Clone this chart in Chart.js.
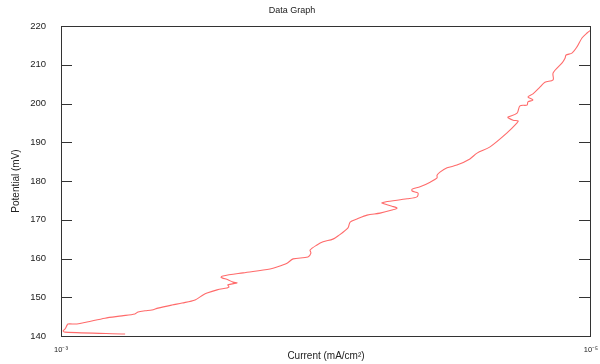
<!DOCTYPE html>
<html>
<head>
<meta charset="utf-8">
<script src="https://cdn.jsdelivr.net/npm/chart.js@4/dist/chart.umd.min.js"></script>
<style>
  html, body { margin: 0; padding: 0; background: #fff; }
  #wrap { position: relative; width: 600px; height: 364px; }
</style>
</head>
<body>
<div id="wrap"><canvas id="c"></canvas></div>
<script>
const FONT = '"Liberation Sans", Arial, Helvetica, sans-serif';
const LINE = '#ff6b6b';
const INK  = '#222';

// log10 of current (mA/cm2)
const logCurrent = [
  -3.242, -3.015, -3.008, -3.015, -3.023, -3.026, -3.060, -3.098, -3.166, -3.230,
  -3.279, -3.291, -3.317, -3.343, -3.366, -3.419, -3.457, -3.506, -3.536, -3.551,
  -3.589, -3.626, -3.634, -3.630, -3.664, -3.649, -3.630, -3.608, -3.604, -3.611,
  -3.687, -3.789, -3.815, -3.853, -3.876, -3.932, -3.943, -3.940, -3.966, -3.989,
  -4.026, -4.045, -4.083, -4.091, -4.117, -4.155, -4.204, -4.249, -4.268, -4.249,
  -4.211, -4.223, -4.306, -4.343, -4.347, -4.325, -4.325, -4.355, -4.393, -4.419,
  -4.419, -4.430, -4.457, -4.494, -4.543, -4.570, -4.619, -4.683, -4.721, -4.725,
  -4.706, -4.687, -4.687, -4.721, -4.732, -4.759, -4.762, -4.781, -4.762, -4.781,
  -4.808, -4.826, -4.857, -4.857, -4.891, -4.902, -4.906, -4.928, -4.947, -4.966,
  -4.985, -5.000
];
// potential (mV)
const potential = [
  140.5, 141.0, 141.3, 141.8, 142.8, 143.1, 143.1, 143.6, 144.6, 145.2,
  145.7, 146.2, 146.5, 146.7, 147.2, 148.0, 148.5, 149.3, 150.6, 151.1,
  151.9, 152.4, 152.6, 153.2, 153.7, 153.9, 154.5, 155.0, 155.2, 155.5,
  156.3, 157.3, 157.8, 158.8, 159.9, 160.4, 161.4, 162.2, 163.5, 164.3,
  165.0, 165.8, 167.9, 169.4, 170.2, 171.2, 171.7, 172.5, 173.0, 173.5,
  174.3, 174.6, 175.4, 175.9, 176.9, 177.4, 177.9, 178.5, 179.7, 180.8,
  181.5, 182.3, 183.4, 184.1, 185.7, 187.2, 188.8, 192.4, 195.0, 195.5,
  195.7, 196.3, 196.5, 197.5, 199.4, 199.6, 200.4, 200.9, 201.7, 202.5,
  204.3, 205.5, 206.1, 207.9, 210.5, 211.7, 212.5, 213.0, 214.6, 216.9,
  218.2, 219.0
];

const xTicks = [-5, -3];
const xTickLabels = { '-5': '10\u207B\u2075', '-3': '10\u207B\u00B3' };
const yMin = 140, yMax = 220, yStep = 10;

const points = logCurrent.map((x, i) => ({ x, y: potential[i] }));

// frame, inward ticks on both sides, title
const framePlugin = {
  id: 'frame',
  afterDraw(chart) {
    const { ctx, chartArea: a } = chart;
    const ys = chart.scales.y;
    ctx.save();
    ctx.strokeStyle = '#333';
    ctx.lineWidth = 1;
    ctx.strokeRect(a.left + 0.5, a.top + 0.5, a.right - a.left - 1, a.bottom - a.top);
    ctx.beginPath();
    ys.ticks.forEach(t => {
      const py = Math.round(ys.getPixelForValue(t.value)) + 0.5;
      ctx.moveTo(a.left, py); ctx.lineTo(a.left + 11, py);
      ctx.moveTo(a.right - 12, py); ctx.lineTo(a.right, py);
    });
    ctx.stroke();
    ctx.fillStyle = INK;
    ctx.font = '9px ' + FONT;
    ctx.textAlign = 'center';
    ctx.textBaseline = 'middle';
    ctx.fillText('Data Graph', chart.width / 2 - 8, 11);
    ctx.restore();
  }
};

new Chart(document.getElementById('c'), {
  type: 'scatter',
  data: {
    datasets: [{
      data: points,
      showLine: true,
      borderColor: LINE,
      borderWidth: 1.1,
      pointRadius: 0,
      tension: 0.3,
      fill: false,
    }],
  },
  options: {
    responsive: true, maintainAspectRatio: false, animation: false,
    layout: { padding: { top: 26, right: 9, left: 0, bottom: 0 } },
    plugins: { legend: { display: false }, tooltip: { enabled: false } },
    scales: {
      x: {
        type: 'linear', min: -5, max: -3, reverse: true,
        grid: { display: false }, border: { display: false },
        afterBuildTicks: s => { s.ticks = xTicks.map(v => ({ value: v })); },
        afterFit: s => { s.height = 28; },
        ticks: {
          autoSkip: false, maxRotation: 0, padding: 1,
          font: { family: FONT, size: 7.5 }, color: INK,
          callback: v => xTickLabels[String(v)],
        },
        title: { display: true, text: 'Current (mA/cm\u00B2)', font: { family: FONT, size: 10 }, color: INK, padding: { top: 0, bottom: 2 } },
      },
      y: {
        min: yMin, max: yMax,
        grid: { display: false }, border: { display: false },
        afterFit: s => { s.width = 61; },
        ticks: { stepSize: yStep, padding: 7, font: { family: FONT, size: 9.5 }, color: INK },
        title: { display: true, text: 'Potential (mV)', font: { family: FONT, size: 10 }, color: INK, padding: { top: 10, bottom: 6 } },
      },
    },
  },
  plugins: [framePlugin],
});
</script>
</body>
</html>
